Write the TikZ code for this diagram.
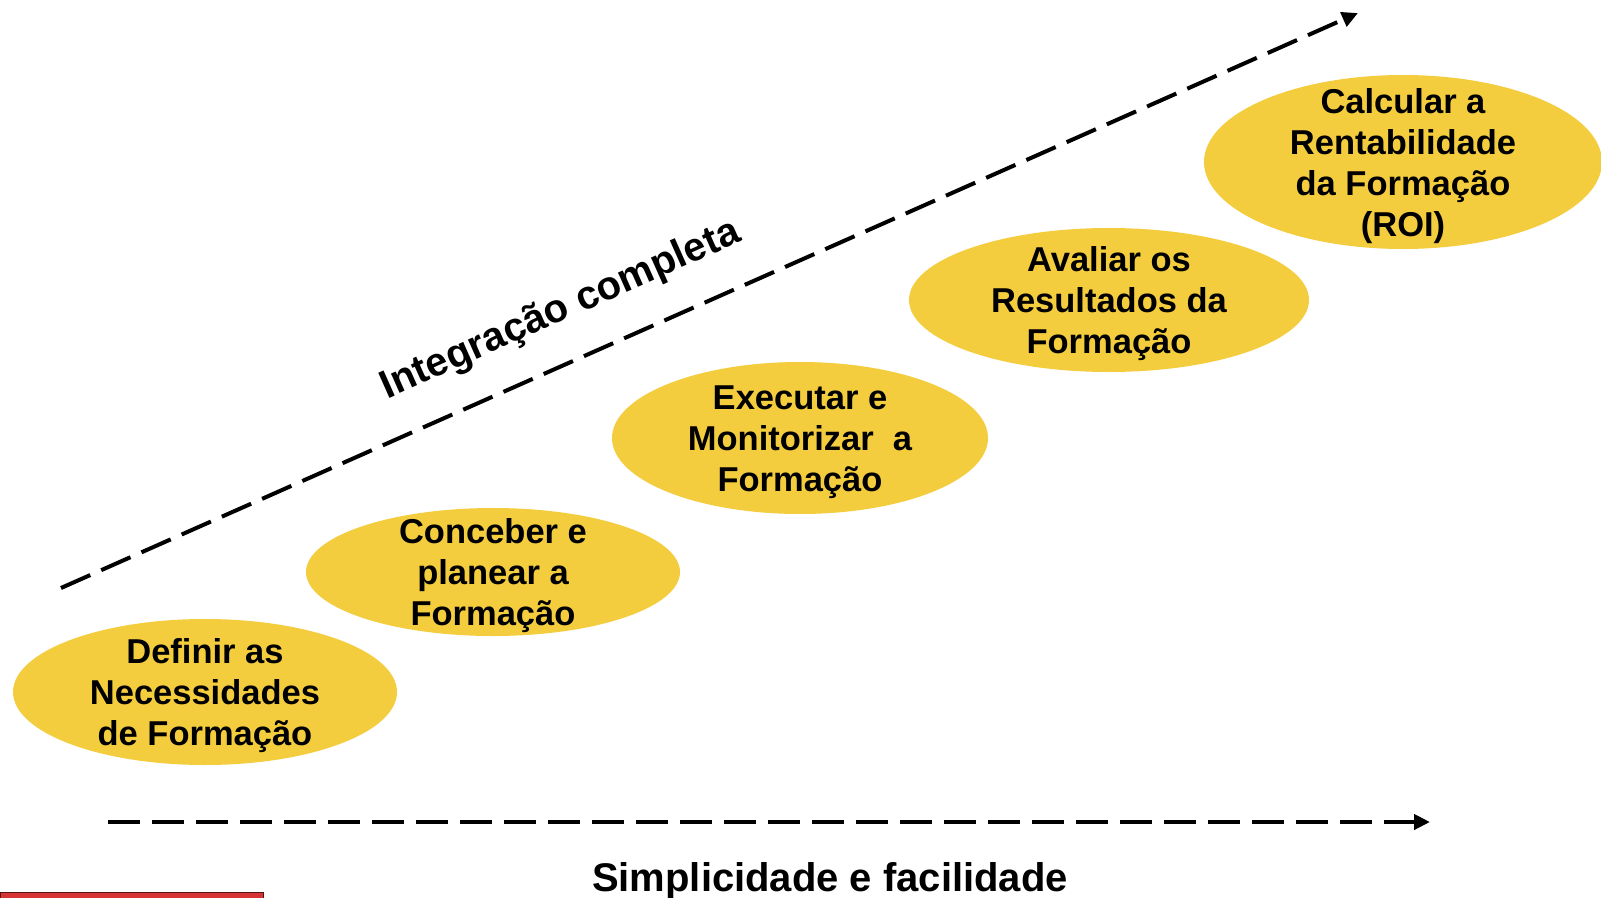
\documentclass[tikz,border=0pt]{standalone}
\usepackage{fontspec}
\setmainfont{Liberation Sans}
\usetikzlibrary{arrows.meta,shapes.geometric}

\begin{document}
\begin{tikzpicture}[x=1pt,y=-1pt,>={Triangle[length=16pt,width=15pt]}]

\definecolor{stageyellow}{RGB}{244,205,62}
\definecolor{barred}{RGB}{214,52,52}

\useasboundingbox (0,0) rectangle (1601,897);

\tikzset{
    stage/.style={
        ellipse, fill=stageyellow, inner sep=0pt
    },
    stage text/.style={
        text=black, align=center, inner sep=0pt, yshift=-4pt,
        font=\bfseries\fontsize{34.5}{41}\selectfont
    },
    axis/.style={
        draw=black, line width=4pt, dash pattern=on 32pt off 12pt, ->
    },
    axis label/.style={
        font=\bfseries\fontsize{40}{48}\selectfont, inner sep=0pt
    }
}

% --- STAGES (ellipses rising to the right) ---
\node[stage, minimum width=384, minimum height=146] (Def) at (205,692) {};
\node[stage, minimum width=374, minimum height=128] (Conc) at (493,572) {};
\node[stage, minimum width=376, minimum height=152] (Exec) at (800,438) {};
\node[stage, minimum width=400, minimum height=144] (Aval) at (1109,300) {};
\node[stage, minimum width=398, minimum height=174] (Calc) at (1403,162) {};

\node[stage text] (DefText) at (Def) {Definir as\\Necessidades\\de Formação};
\node[stage text] (ConcText) at (Conc) {Conceber e\\planear a\\Formação};
\node[stage text] (ExecText) at (Exec) {Executar e\\Monitorizar\ \ a\\Formação};
\node[stage text] (AvalText) at (Aval) {Avaliar os\\Resultados da\\Formação};
\node[stage text] (CalcText) at (Calc) {Calcular a\\Rentabilidade\\da Formação\\(ROI)};

% --- AXES ---
\coordinate (DiagStart) at (61,588);
\coordinate (DiagEnd) at (1358,13);
\coordinate (HorStart) at (108,822);
\coordinate (HorEnd) at (1430,822);

\draw[axis] (DiagStart) -- (DiagEnd);
\draw[axis] (HorStart) -- (HorEnd);

\node[axis label, rotate=24, anchor=base] (Integ) at (565,320) {Integração completa};
\node[axis label, anchor=base] (Simpl) at (830,891) {Simplicidade e facilidade};

% red bar at the lower edge
\draw[draw=black!60!barred, fill=barred, line width=1pt] (0,892.5) rectangle (263,905);

\end{tikzpicture}
\end{document}
